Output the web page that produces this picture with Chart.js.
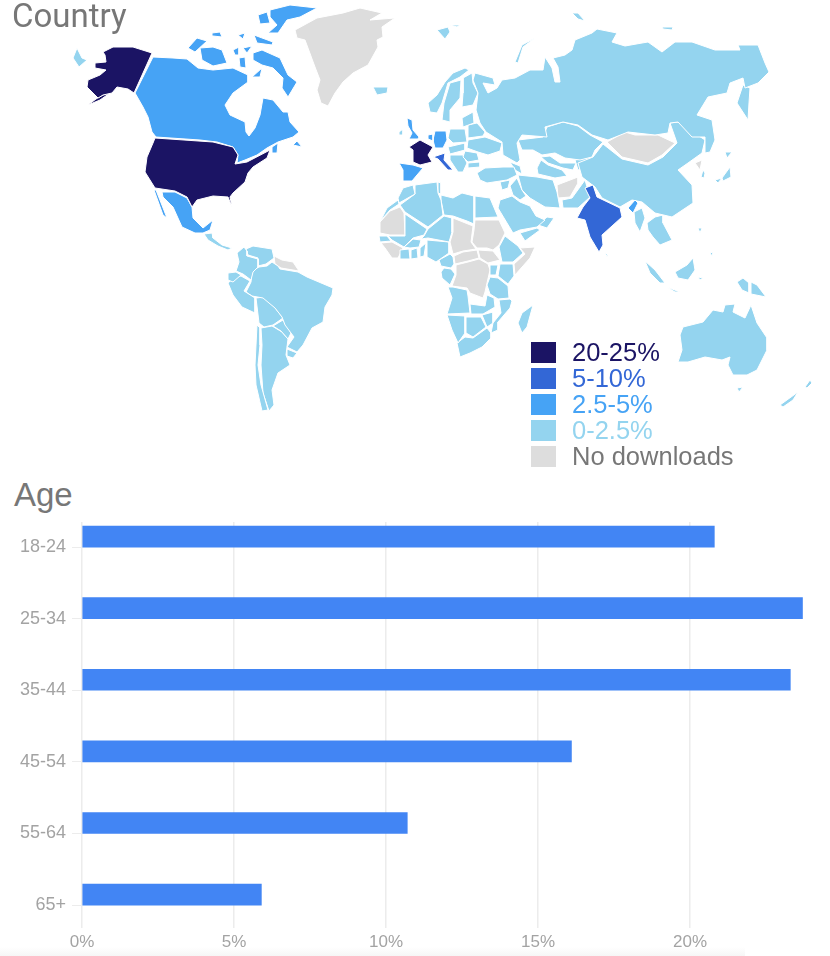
<!DOCTYPE html>
<html>
<head>
<meta charset="utf-8">
<title>Downloads by country and age</title>
<script src="https://cdn.jsdelivr.net/npm/chart.js@4"></script>
<style>
    html, body { margin: 0; padding: 0; background: #fff; }
    #page { position: relative; width: 830px; height: 956px; overflow: hidden; }
    canvas { position: absolute; }
    .title { position: absolute; color: #777; line-height: 1; }
    #countryTitle { left: 12px; top: -4px; font: 33px Roboto, sans-serif; }
    #ageTitle { left: 14px; top: 476px; font: 33px "Liberation Sans", sans-serif; }
    #mapLegend { position: absolute; left: 531px; top: 342px; font: 25.5px/26px "Liberation Sans", sans-serif; }
    #mapLegend div { height: 26px; white-space: nowrap; }
    #mapLegend i { display: inline-block; width: 25px; height: 21px; margin-right: 16px; vertical-align: top; }
    #mapLegend span { position: relative; top: -3px; vertical-align: top; }
    #bottomShade { position: absolute; left: 0; top: 947px; width: 745px; height: 9px; background: linear-gradient(#fff, #f6f6f6); }
</style>
</head>
<body>
<div id="page">
    <div id="bottomShade"></div>
    <canvas id="mapChart" style="left:0;top:0"></canvas>
    <div class="title" id="countryTitle">Country</div>
    <div id="mapLegend"></div>
    <div class="title" id="ageTitle">Age</div>
    <canvas id="ageChart" style="left:0;top:522px"></canvas>
</div>
<script>
// Age chart data
const ageGroups = ['18-24', '25-34', '35-44', '45-54', '55-64', '65+'];
const ageShares = [20.8, 23.7, 23.3, 16.1, 10.7, 5.9];
const shareTicks = [0, 5, 10, 15, 20];

// Map legend
const bandLabels = ['20-25%', '5-10%', '2.5-5%', '0-2.5%', 'No downloads'];
const bandColors = ['#1b1464', '#3367d6', '#46a3f5', '#94d4ef', '#dddddd'];
const bandTextColors = ['#1b1464', '#3367d6', '#46a3f5', '#94d4ef', '#777777'];

// Outlines, in map units
const alaska = [[103,52],[113,47],[133,47],[152,53],[134,93],[128,89],[117,87],[112,93],[103,95],[98,98],[87,87],[88,80],[100,75],[106,70],[95,68],[95,63],[106,62],[105,55]];
const alaskaTail = [[103,95],[110,93],[100,100],[88,105],[96,99]];
const usa = [[155,138],[213,142],[233,147],[238,155],[235,164],[247,162],[270,150],[267,158],[253,167],[248,173],[245,182],[233,193],[230,197],[232,207],[228,197],[213,196],[197,200],[192,207],[187,197],[175,191],[155,188],[145,172],[147,157],[153,143]];
const france = [[420,140],[433,147],[428,155],[432,162],[420,165],[413,162],[413,150],[409,147]];

const india = [[585,188],[593,185],[597,197],[620,208],[622,217],[602,235],[603,245],[599,252],[590,237],[585,220],[577,218],[583,207],[590,198]];
const italy = [[433,157],[445,153],[444,160],[453,170],[448,170],[438,159]];

const canada = [[153,57],[173,58],[187,59],[198,68],[213,70],[233,68],[248,75],[248,82],[233,93],[225,105],[230,115],[245,122],[246,132],[249,136],[255,128],[260,115],[263,98],[273,100],[283,112],[288,112],[290,122],[299,132],[293,137],[278,142],[267,148],[257,155],[245,160],[237,163],[238,155],[233,147],[217,142],[200,140],[156,137],[152,132],[148,117],[143,107],[135,93]];
const ellesmere = [[270,10],[290,5],[317,8],[300,17],[287,20],[278,33],[268,33],[277,25],[270,17]];
const axelHeiberg = [[258,15],[267,12],[270,23],[260,24]];
const baffin = [[253,53],[262,50],[280,58],[288,75],[297,82],[288,97],[282,88],[283,78],[273,68],[262,65],[253,60]];
const victoriaIsland = [[200,48],[213,47],[222,50],[227,63],[213,66],[202,60]];
const banks = [[188,48],[197,38],[207,41],[195,52]];
const princeOfWales = [[233,50],[239,47],[239,55],[235,55]];
const somerset = [[243,48],[252,46],[247,53]];
const southampton = [[252,77],[262,68],[260,77]];
const devon = [[254,35],[273,42],[272,45],[257,43]];
const melville = [[212,33],[220,32],[222,37],[213,36]];
const bathurst = [[238,35],[245,33],[243,39]];
const melvillePeninsula = [[239,58],[245,57],[246,68],[240,67]];
const newfoundland = [[272,147],[278,143],[277,153],[272,153]];
const novaScotia = [[293,145],[297,141],[302,147]];
const mexico = [[162,192],[175,192],[187,198],[192,207],[193,218],[203,228],[213,220],[210,230],[203,233],[195,233],[182,227],[173,207],[163,197]];
const baja = [[154,190],[156,190],[167,218],[163,215]];
const spain = [[399,163],[406,164],[413,165],[423,168],[417,175],[412,181],[403,181],[403,170]];
const uk = [[407,118],[412,120],[413,130],[419,137],[418,139],[409,139],[412,133],[408,126]];
const benelux = [[428,135],[433,134],[433,141],[428,139]];
const germany = [[435,131],[446,131],[447,140],[443,148],[435,148],[433,140]];
const bangladesh = [[628,208],[635,200],[638,203],[633,213]];

const russia = [[475,73],[493,78],[495,85],[483,83],[488,93],[497,88],[502,80],[515,78],[530,70],[543,70],[545,57],[552,68],[555,82],[560,82],[558,67],[553,58],[565,55],[572,50],[575,40],[592,33],[597,29],[617,33],[612,42],[625,46],[642,43],[648,42],[662,52],[675,42],[692,42],[715,50],[740,50],[738,45],[758,45],[765,63],[769,72],[758,83],[745,88],[743,78],[730,83],[727,93],[708,97],[697,115],[712,120],[715,140],[710,152],[705,153],[705,137],[692,137],[678,122],[670,123],[668,133],[655,135],[628,132],[608,140],[592,135],[578,125],[563,122],[545,127],[547,137],[522,135],[517,143],[520,160],[517,163],[503,155],[502,142],[486,132],[480,123],[476,110],[478,93],[473,80]];
const kamchatka = [[737,103],[743,85],[750,88],[749,103],[748,120]];
const novayaZemlya = [[515,62],[522,45],[535,38],[523,47],[518,63]];
const svalbard = [[437,30],[448,27],[450,32],[445,39]];
const nordaustlandet = [[450,25],[460,25],[457,27]];
const franzJosef = [[572,13],[578,13],[585,21],[578,19]];
const severnaya = [[662,27],[673,27],[672,30],[663,29]];
const iceland = [[373,87],[388,87],[387,93],[377,95]];
const stLawrence = [[73,58],[77,48],[82,58],[87,60],[79,67]];
const centralAmerica = [[204,234],[212,233],[213,238],[222,245],[232,248],[228,250],[218,246],[208,240]];

const colombia = [[237,253],[244,247],[247,251],[247,256],[258,259],[258,267],[253,272],[251,280],[243,274],[236,271],[239,262]];
const venezuela = [[246,249],[253,246],[272,249],[274,258],[266,264],[258,266],[258,258],[248,255]];
const ecuador = [[228,273],[236,272],[241,275],[233,282],[228,280]];
const peru = [[228,283],[235,277],[241,276],[250,281],[244,291],[255,298],[255,313],[242,307],[233,295]];
const brazil = [[252,271],[259,267],[267,266],[272,262],[278,266],[280,269],[298,272],[307,277],[333,288],[332,295],[325,307],[323,322],[312,328],[303,345],[297,352],[287,347],[294,337],[285,325],[282,317],[275,308],[263,298],[252,296],[246,292],[251,282]];
const bolivia = [[256,298],[264,297],[276,309],[283,318],[273,325],[264,327],[259,323]];
const paraguay = [[273,326],[283,320],[291,333],[288,339],[281,331]];
const chile = [[257,325],[260,328],[260,345],[258,365],[261,385],[268,410],[262,411],[256,385],[255,365]];
const argentina = [[261,328],[272,326],[282,332],[288,339],[286,355],[290,365],[278,373],[272,390],[274,405],[269,411],[263,393],[261,365],[262,345]];
const uruguay = [[287,349],[297,353],[293,358],[287,356]];

const morocco = [[403,188],[413,185],[415,194],[399,203],[398,198]];
const westernSahara = [[387,208],[398,200],[399,204],[390,210],[383,218],[380,222]];
const algeria = [[400,205],[415,194],[415,185],[437,182],[438,193],[441,200],[443,215],[428,227],[405,212]];
const tunisia = [[438,182],[441,183],[441,194],[438,193]];
const libya = [[441,195],[453,198],[462,193],[474,196],[474,224],[467,221],[453,216],[444,215],[441,200]];
const egypt = [[475,196],[490,198],[498,217],[475,218]];
const mali = [[405,214],[427,229],[424,235],[413,238],[404,247],[392,240],[388,236],[405,236]];
const niger = [[428,229],[444,216],[452,218],[452,232],[449,242],[428,238],[421,239],[424,236]];
const nigeria = [[427,240],[449,242],[449,253],[436,262],[427,257]];
const cameroon = [[450,254],[453,257],[454,264],[451,268],[441,266],[439,260]];
const gabon = [[441,272],[444,268],[451,269],[455,274],[450,285],[442,278]];
const ethiopia = [[499,247],[505,236],[518,246],[523,253],[513,262],[502,262]];
const kenya = [[500,264],[513,264],[514,276],[508,284],[498,276]];
const uganda = [[490,265],[498,265],[496,275],[490,275]];
const tanzania = [[490,277],[498,278],[508,286],[509,298],[498,299],[490,294],[487,285]];
const angola = [[448,287],[453,287],[467,290],[468,296],[470,313],[447,314],[452,298]];
const zambia = [[470,304],[485,306],[487,295],[494,298],[495,307],[483,314],[471,314]];
const mozambique = [[499,300],[510,299],[512,301],[510,308],[498,322],[498,330],[491,333],[493,323],[501,313]];
const namibia = [[447,315],[465,316],[465,333],[458,343],[452,330]];
const botswana = [[466,317],[481,317],[486,327],[473,337],[466,333]];
const zimbabwe = [[482,315],[493,312],[493,323],[487,327]];
const southAfrica = [[465,337],[473,338],[487,328],[491,333],[491,338],[482,347],[470,353],[460,357],[457,343]];
const madagascar = [[533,305],[527,327],[522,333],[518,323],[522,313]];
const senegal = [[379,236],[387,236],[391,241],[380,242]];
const ivoryCoast = [[400,250],[409,249],[410,259],[400,259]];
const burkina = [[404,247],[413,239],[421,240],[419,247],[410,248]];
const ghana = [[411,250],[417,248],[418,258],[411,259]];
const benin = [[420,248],[426,243],[424,256],[420,257]];

const norway = [[428,103],[430,112],[437,113],[442,103],[448,83],[460,77],[469,70],[465,68],[453,73],[445,82],[437,95]];
const sweden = [[442,120],[450,122],[450,110],[460,98],[461,80],[450,83],[444,103]];
const finland = [[462,107],[473,105],[478,93],[473,83],[472,73],[463,78],[463,93]];
const ireland = [[399,132],[403,129],[403,135],[399,135]];
const baltics = [[462,118],[473,112],[474,123],[463,127]];
const poland = [[450,129],[465,129],[467,142],[453,143],[448,138]];
const belarus = [[468,125],[477,123],[485,132],[483,136],[468,138]];
const ukraine = [[468,140],[485,137],[502,143],[500,151],[488,155],[478,152],[467,148]];
const austria = [[448,147],[465,143],[465,150],[450,154]];
const romania = [[465,151],[477,153],[479,160],[468,162],[463,157]];
const balkans = [[450,155],[463,155],[467,163],[463,172],[458,172],[450,160]];
const bulgaria = [[468,163],[480,162],[480,167],[468,168]];
const turkey = [[477,173],[485,168],[503,167],[514,167],[517,175],[507,180],[487,183],[480,180]];
const caucasus = [[510,162],[520,166],[522,174],[515,170]];

const kazakhstan = [[518,140],[543,137],[547,127],[563,122],[578,126],[590,135],[603,142],[595,150],[592,157],[580,160],[565,158],[555,153],[542,155],[533,150],[522,150]];
const china = [[603,144],[622,159],[648,165],[663,157],[677,143],[670,123],[678,122],[705,140],[702,153],[688,163],[678,170],[692,185],[693,203],[672,217],[655,213],[642,202],[632,200],[620,207],[602,198],[595,187],[582,177],[578,163],[593,157]];
const uzbekistan = [[541,157],[550,156],[560,163],[576,163],[573,170],[563,168],[548,163]];
const kyrgyzstan = [[575,160],[592,157],[590,167],[578,170]];
const turkmenistan = [[537,168],[541,160],[548,165],[562,170],[567,176],[555,178],[538,174]];
const iran = [[518,175],[537,177],[553,180],[557,192],[560,208],[545,207],[530,198],[522,190]];
const pakistan = [[562,200],[572,198],[585,180],[590,197],[578,208],[563,208]];
const myanmar = [[634,212],[642,208],[645,218],[640,232],[635,223]];
const indochina = [[647,223],[655,217],[663,215],[663,223],[672,240],[660,245],[653,237],[648,230]];
const sumatra = [[645,261],[655,270],[665,283],[660,283],[650,273]];
const borneo = [[675,272],[687,265],[693,258],[695,270],[688,280],[678,278]];
const java = [[667,287],[680,292],[675,292]];
const westPapua = [[737,282],[743,278],[749,283],[749,293],[742,290]];
const papua = [[751,282],[757,285],[766,297],[751,294]];
const taiwan = [[698,228],[702,228],[700,233]];
const philippines = [[710,253],[713,252],[712,256]];
const sulawesi = [[698,277],[703,278],[700,280]];
const sriLanka = [[605,252],[608,255],[607,257]];
const honshu = [[722,178],[730,167],[731,177],[723,181]];
const hokkaido = [[725,152],[732,152],[727,158]];
const kyushu = [[715,180],[722,178],[718,183]];
const southKorea = [[703,170],[705,173],[704,178],[701,177]];
const saudiArabia = [[500,200],[512,196],[520,202],[530,206],[536,216],[545,220],[537,227],[520,230],[513,233],[498,208]];
const yemen = [[520,233],[537,228],[540,230],[525,241]];
const oman = [[538,225],[547,217],[554,218],[547,228]];
const iraq = [[510,186],[517,178],[522,190],[526,196],[520,200],[513,195]];
const syria = [[500,182],[510,180],[508,188],[502,190]];
const australia = [[683,327],[703,322],[713,310],[723,312],[725,305],[735,304],[733,312],[745,318],[751,305],[757,323],[767,338],[767,350],[757,370],[747,375],[733,375],[728,365],[730,357],[722,360],[705,357],[688,362],[678,362],[682,350],[680,335]];
const tasmania = [[737,388],[743,387],[739,392]];
const newZealandSouth = [[780,405],[798,392],[793,400],[783,407]];
const newZealandNorth = [[805,387],[810,380],[812,383],[807,388]];

const greenland = [[295,30],[317,18],[343,13],[360,8],[382,13],[370,20],[395,18],[382,27],[383,37],[377,40],[378,47],[368,65],[353,73],[343,82],[335,93],[328,106],[321,103],[317,90],[320,80],[315,67],[305,40],[297,38]];
const guianas = [[274,256],[282,260],[293,262],[299,271],[281,268],[275,264]];
const mauritania = [[380,222],[390,211],[400,207],[404,213],[405,235],[390,235],[380,233]];
const guinea = [[381,243],[392,242],[403,248],[398,258],[392,258],[385,248]];
const sudan = [[475,220],[499,220],[505,233],[499,245],[493,250],[487,248],[477,248],[472,242],[474,230]];
const chad = [[453,218],[473,226],[471,242],[476,249],[463,251],[453,254],[450,242],[453,232]];
const centralAfrica = [[454,256],[463,252],[477,250],[479,258],[468,261],[455,264]];
const southSudan = [[478,250],[493,251],[500,260],[488,263],[480,258]];
const congo = [[456,265],[468,262],[479,259],[488,264],[490,270],[487,283],[485,292],[483,298],[470,293],[467,288],[452,286],[456,275]];
const somalia = [[520,248],[535,247],[530,258],[515,275],[514,264],[525,254]];
const mongolia = [[607,142],[625,132],[635,135],[658,135],[675,143],[662,155],[648,163],[622,157]];
const afghanistan = [[557,185],[578,177],[578,183],[570,197],[558,198]];
const northKorea = [[695,163],[702,160],[700,170]];

const bandShapes = [
    [alaska, alaskaTail, usa, france],
    [india, italy],
    [canada, ellesmere, axelHeiberg, baffin, victoriaIsland, banks, princeOfWales, somerset, southampton, devon, melville, bathurst, melvillePeninsula, newfoundland, novaScotia, mexico, baja, spain, uk, benelux, germany, bangladesh],
    [russia, kamchatka, novayaZemlya, svalbard, nordaustlandet, franzJosef, severnaya, iceland, stLawrence, centralAmerica,
        colombia, venezuela, ecuador, peru, brazil, bolivia, paraguay, chile, argentina, uruguay,
        morocco, westernSahara, algeria, tunisia, libya, egypt, mali, niger, nigeria, cameroon, gabon, ethiopia, kenya, uganda, tanzania, angola, zambia, mozambique, namibia, botswana, zimbabwe, southAfrica, madagascar, senegal, ivoryCoast, burkina, ghana, benin,
        norway, sweden, finland, ireland, baltics, poland, belarus, ukraine, austria, romania, balkans, bulgaria, turkey, caucasus,
        kazakhstan, china, uzbekistan, kyrgyzstan, turkmenistan, iran, pakistan, myanmar, indochina, sumatra, borneo, java, westPapua, papua, taiwan, philippines, sulawesi, sriLanka, honshu, hokkaido, kyushu, southKorea, saudiArabia, yemen, oman, iraq, syria,
        australia, tasmania, newZealandSouth, newZealandNorth],
    [greenland, guianas, mauritania, guinea, sudan, chad, centralAfrica, southSudan, congo, somalia, mongolia, afghanistan, northKorea]
];

document.addEventListener('DOMContentLoaded', function() {
    // Map: every outline is a closed line dataset on two hidden linear scales
    const mapDatasets = [];
    bandShapes.forEach((shapes, band) => {
        shapes.forEach(shape => {
            const points = shape.concat([shape[0]]).map(p => ({ x: p[0], y: p[1] }));
            mapDatasets.push({
                data: points,
                showLine: true,
                fill: 'shape',
                tension: 0,
                pointRadius: 0,
                borderWidth: 1,
                borderColor: '#ffffff',
                backgroundColor: bandColors[band]
            });
        });
    });

    const mapCanvas = document.getElementById('mapChart');
    mapCanvas.style.width = '830px';
    mapCanvas.style.height = '470px';
    new Chart(mapCanvas, {
        type: 'scatter',
        data: { datasets: mapDatasets },
        options: {
            responsive: false,
            animation: false,
            layout: { padding: 0 },
            plugins: { legend: { display: false }, tooltip: { enabled: false } },
            scales: {
                x: { type: 'linear', display: false, min: 0, max: 830 },
                y: { type: 'linear', display: false, min: 0, max: 470, reverse: true }
            }
        }
    });

    // Map legend
    const mapLegend = document.getElementById('mapLegend');
    bandLabels.forEach((label, i) => {
        const row = document.createElement('div');
        row.innerHTML = `<i style="background:${bandColors[i]}"></i><span style="color:${bandTextColors[i]}">${label}</span>`;
        mapLegend.appendChild(row);
    });

    // Age bars. The empty second dataset pushes each bar above its tick.
    const ageCanvas = document.getElementById('ageChart');
    ageCanvas.style.width = '830px';
    ageCanvas.style.height = '434px';
    new Chart(ageCanvas, {
        type: 'bar',
        data: {
            datasets: [
                {
                    data: ageShares.map((share, i) => ({ x: share, y: i })),
                    backgroundColor: '#4285f4',
                    barThickness: 21
                },
                { data: [], barThickness: 21 }
            ]
        },
        options: {
            indexAxis: 'y',
            responsive: false,
            animation: false,
            layout: { padding: { right: 18.4 } },
            plugins: { legend: { display: false }, tooltip: { enabled: false } },
            scales: {
                x: {
                    min: 0,
                    max: 24,
                    afterBuildTicks: axis => { axis.ticks = shareTicks.map(v => ({ value: v })); },
                    afterFit: axis => { axis.height = 28; },
                    border: { display: false },
                    grid: { color: '#ececec', lineWidth: 1.5, drawTicks: false },
                    ticks: {
                        padding: 4,
                        maxRotation: 0,
                        color: '#a3a3a3',
                        font: { family: 'Liberation Sans', size: 17 },
                        callback: value => value + '%'
                    }
                },
                y: {
                    type: 'linear',
                    reverse: true,
                    offset: false,
                    min: -0.35,
                    max: 5.32,
                    afterBuildTicks: axis => { axis.ticks = ageGroups.map((g, i) => ({ value: i })); },
                    afterFit: axis => {
                        axis.width = 82;
                        axis.paddingTop = 0;
                        axis.paddingBottom = 0;
                    },
                    border: { display: false },
                    grid: { offset: false, drawOnChartArea: false, color: '#ececec', tickLength: 10 },
                    ticks: {
                        padding: 6,
                        color: '#a3a3a3',
                        font: { family: 'Liberation Sans', size: 18 },
                        callback: value => ageGroups[value]
                    }
                }
            }
        }
    });
});
</script>
</body>
</html>
